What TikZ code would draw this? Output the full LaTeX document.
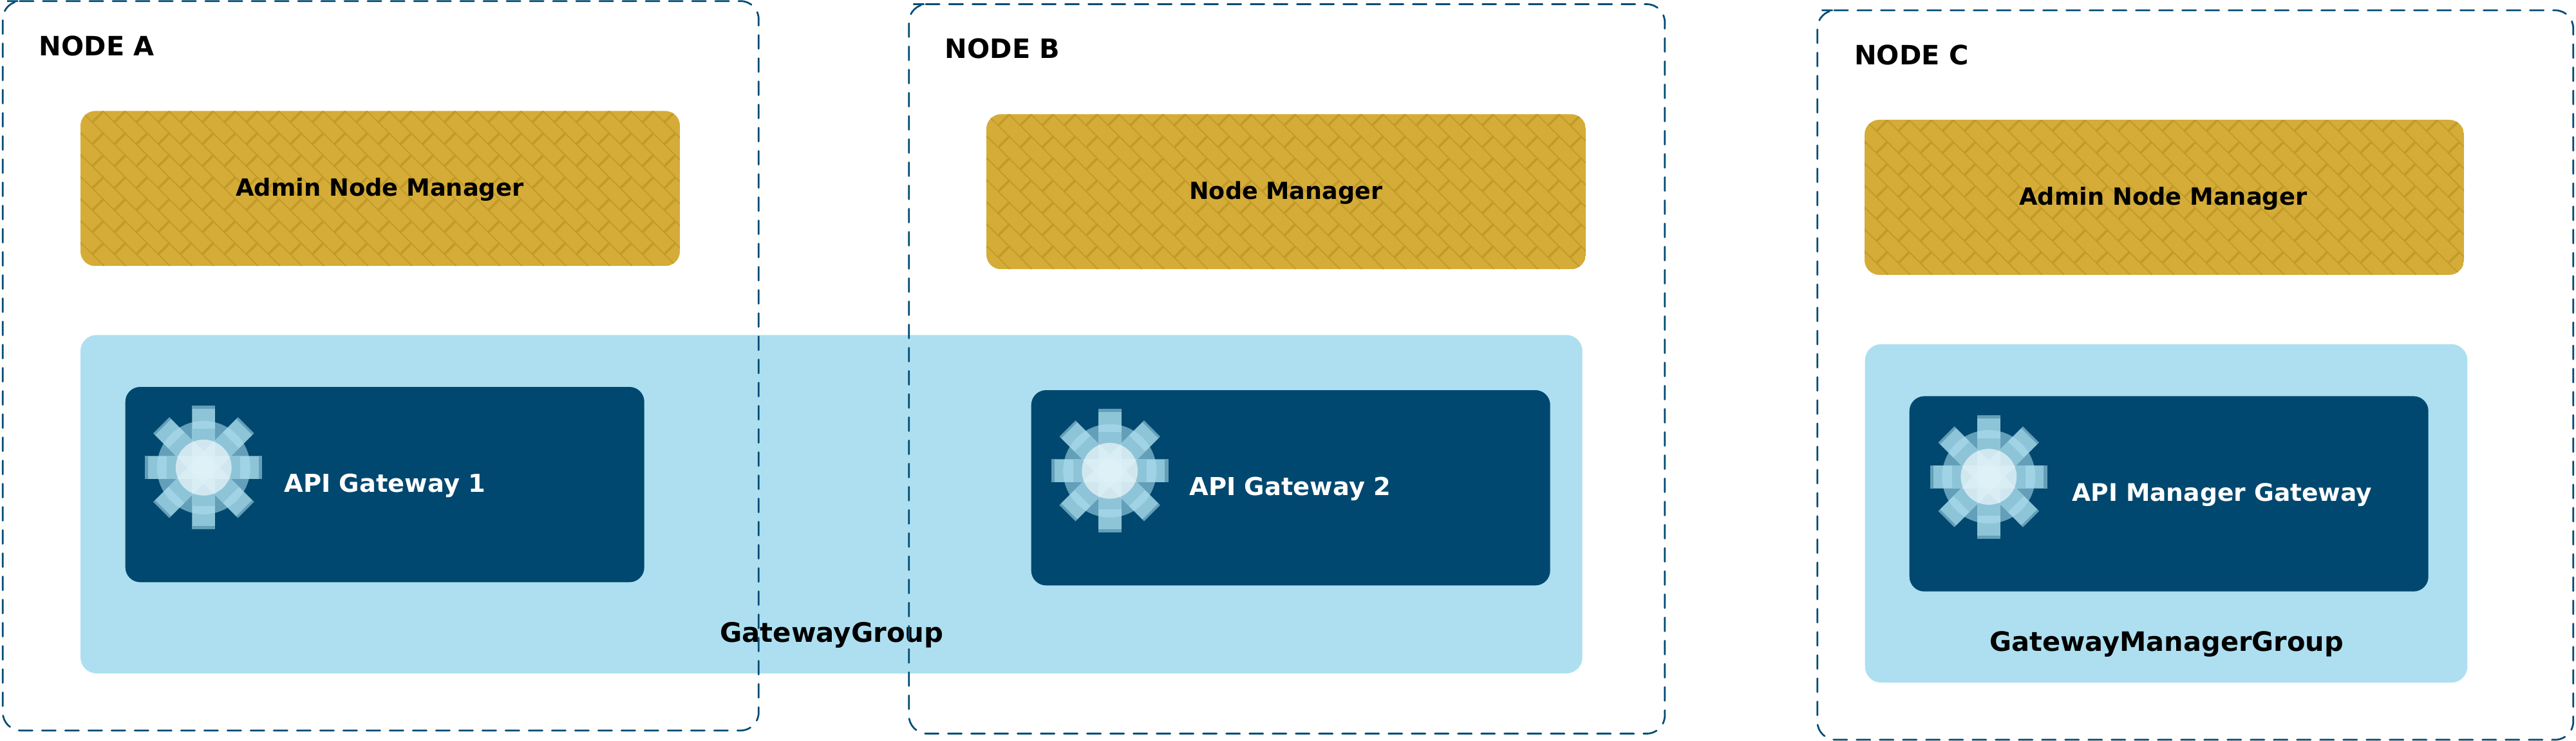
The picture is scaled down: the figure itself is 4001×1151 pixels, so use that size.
\documentclass[tikz,border=0pt]{standalone}
\usepackage{fontspec}
\setmainfont{DejaVu Sans}
\definecolor{goldfill}{HTML}{D4AC37}
\definecolor{goldline}{HTML}{C19A28}
\definecolor{paleblue}{HTML}{ADDFF0}
\definecolor{deepblue}{HTML}{00486F}
\definecolor{dashblue}{HTML}{004C75}
\newcommand{\brickbox}[3]{%
  \begin{scope}[shift={(#1,#2)}]
    \begin{scope}
      \clip[rounded corners=11.5pt] (0,0) rectangle (931,241);
      \fill[goldfill] (0,0) rectangle (931,241);
      \foreach \i in {-8,...,28}
        \draw[goldline,line width=0.85pt] ({0.8+\i*34.17},0) -- ({241.8+\i*34.17},241);
      \foreach \i in {-1,...,27}\foreach \j in {-1,...,6}
        \draw[goldline,line width=1.75pt] ({18.5+\i*34.17},{17.5+\j*34.17}) -- ({35.5+\i*34.17},{0.5+\j*34.17});
    \end{scope}
  \end{scope}}
\newcommand{\gearicon}[2]{%
  \begin{scope}[shift={(#1,#2)}]
    \fill[gearpart] (0,0) circle (72.5);
    \fill[gearpart] (-91,-18) rectangle (91,18);
    \fill[gearpart] (-18,-96) rectangle (18,96);
    \fill[gearpart,rotate=45] (-93,-17.7) rectangle (93,17.7);
    \fill[gearpart,rotate=-45] (-93,-17.7) rectangle (93,17.7);
    \fill[gearpart] (57,-17.8) rectangle (85.5,17.8);
    \fill[gearpart] (-57,-17.8) rectangle (-86,17.8);
    \fill[gearpart] (-17.8,60) rectangle (17.8,91);
    \fill[gearpart] (-17.8,-60) rectangle (17.8,-91);
    \foreach \a in {45,135,225,315}
      \fill[gearpart,rotate=\a] (60,-17.5) rectangle (89,17.5);
    \fill[white,fill opacity=0.6] (0,0) circle (43.4);
  \end{scope}}
\newcommand{\hostframe}[2]{%
  \draw[hostline] ({#1+34.7},#2) -- ({#1+1174},#2) -- ({#1+1174},{#2+1133}) -- (#1,{#2+1133}) -- (#1,#2) -- cycle;}
\newcommand{\sized}[1]{\bfseries\fontsize{#1}{24pt}\selectfont}
\tikzset{
  x=0.5pt,y=-0.5pt,
  gearpart/.style={fill=paleblue,fill opacity=0.58},
  hostline/.style={draw=dashblue,line width=1.35pt,line cap=round,rounded corners=14pt,dash pattern=on 10.65pt off 7.35pt},
  groupbox/.style={fill=paleblue,rounded corners=12.5pt},
  gatebox/.style={fill=deepblue,rounded corners=11.5pt},
  txt/.style={anchor=base west,inner sep=0pt},
}
\begin{document}
\begin{tikzpicture}
  \useasboundingbox (0,0) rectangle (4001,1151);
  % groups
  \fill[groupbox] (125,520.3) rectangle (2457.7,1046);
  \fill[groupbox] (2896.7,534.6) rectangle (3832.3,1060.3);
  % gold manager boxes
  \brickbox{125}{172.3}{}
  \brickbox{1532}{177.3}{}
  \brickbox{2896}{186}{}
  % gateway boxes
  \fill[gatebox] (194.7,601) rectangle (1000.7,904.3);
  \fill[gatebox] (1601.7,606) rectangle (2407.7,909.3);
  \fill[gatebox] (2965.7,615.4) rectangle (3771.7,918.7);
  \gearicon{316.3}{726.3}
  \gearicon{1723.7}{731.3}
  \gearicon{3088.8}{740.6}
  % labels
  \node[txt,font=\sized{20.7pt}] (nodeA) at (60.5,86) {NODE A};
  \node[txt,font=\sized{20.7pt}] (nodeB) at (1467.5,90.7) {NODE B};
  \node[txt,font=\sized{20.7pt}] (nodeC) at (2879.9,100.7) {NODE C};
  \node[txt,font=\sized{18.4pt}] (mgrA) at (366,304) {Admin Node Manager};
  \node[txt,font=\sized{18.25pt}] (mgrB) at (1847,309) {Node Manager};
  \node[txt,font=\sized{18.4pt}] (mgrC) at (3136,318) {Admin Node Manager};
  \node[txt,font=\sized{19.2pt},text=white] (gwA) at (441,764) {API Gateway 1};
  \node[txt,font=\sized{19.2pt},text=white] (gwB) at (1847,769) {API Gateway 2};
  \node[txt,font=\sized{18.8pt},text=white] (gwC) at (3218,778) {API Manager Gateway};
  \node[txt,font=\sized{20.9pt}] (grpA) at (1118,997) {GatewayGroup};
  \node[txt,font=\sized{20.75pt}] (grpC) at (3090,1011) {GatewayManagerGroup};
  % dashed host frames
  \hostframe{4.3}{1.7}
  \hostframe{1411.7}{6.5}
  \hostframe{2822.7}{16}
\end{tikzpicture}
\end{document}
